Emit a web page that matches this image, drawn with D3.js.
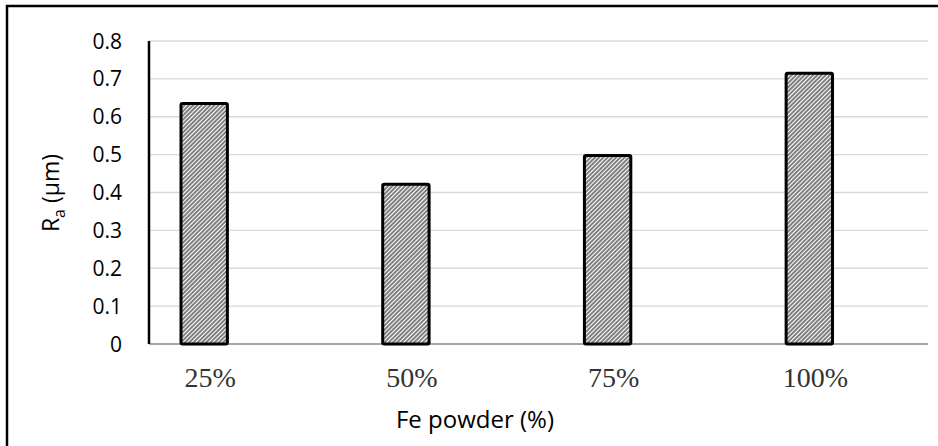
<!DOCTYPE html>
<html>
<head>
<meta charset="utf-8">
<script src="https://cdn.jsdelivr.net/npm/d3@7"></script>
<style>
  body { margin: 0; background: #fff; }
  svg { display: block; }
</style>
</head>
<body>
<svg id="chart" width="938" height="446"></svg>
<script>
// chart data
var categories = ['25%', '50%', '75%', '100%'];
var raValues = [0.635, 0.422, 0.498, 0.715];
var yTicks = [0, 0.1, 0.2, 0.3, 0.4, 0.5, 0.6, 0.7, 0.8];

var svg = d3.select('#chart');

// outer frame (right & bottom edges are cut off in the picture)
svg.append('path')
    .attr('d', 'M7,446 L7,6 L938,6')
    .attr('fill', 'none')
    .attr('stroke', '#000')
    .attr('stroke-width', 2.5);

// plot area (note: "top" is reserved on window, so use own names)
var plotL = 149, plotR = 928, plotT = 41, plotB = 344;

var x = d3.scaleBand()
    .domain(categories)
    .range([plotL, plotR])
    .paddingInner(0.77)
    .paddingOuter(0.316)
    .align(0.251);

var y = d3.scaleLinear()
    .domain([0, 0.8])
    .range([plotB, plotT]);

// hatch pattern
var defs = svg.append('defs');
var pat = defs.append('pattern')
    .attr('id', 'hatch')
    .attr('patternUnits', 'userSpaceOnUse')
    .attr('width', 3)
    .attr('height', 3)
    .attr('patternTransform', 'rotate(45)');
pat.append('rect').attr('width', 3).attr('height', 3).attr('fill', '#fff');
pat.append('line')
    .attr('x1', 1).attr('y1', 0).attr('x2', 1).attr('y2', 3)
    .attr('stroke', '#000')
    .attr('stroke-width', 1);

// gridlines
svg.append('g')
    .selectAll('line')
    .data(yTicks.slice(1))
    .enter().append('line')
    .attr('x1', plotL).attr('x2', plotR)
    .attr('y1', function(d) { return y(d); })
    .attr('y2', function(d) { return y(d); })
    .attr('stroke', '#d9d9d9')
    .attr('stroke-width', 1.3);

// x axis baseline
svg.append('line')
    .attr('x1', plotL).attr('x2', plotR)
    .attr('y1', y(0)).attr('y2', y(0))
    .attr('stroke', '#888')
    .attr('stroke-width', 1.5);

// bars
svg.append('g')
    .selectAll('rect')
    .data(raValues)
    .enter().append('rect')
    .attr('x', function(d, i) { return x(categories[i]); })
    .attr('width', x.bandwidth())
    .attr('y', function(d) { return y(d); })
    .attr('height', function(d) { return y(0) - y(d); })
    .attr('rx', 1.5)
    .attr('fill', 'url(#hatch)')
    .attr('stroke', '#000')
    .attr('stroke-width', 3);

// y axis line
svg.append('line')
    .attr('x1', plotL).attr('x2', plotL)
    .attr('y1', plotT).attr('y2', plotB)
    .attr('stroke', '#000')
    .attr('stroke-width', 2.5);

// y tick labels
svg.append('g')
    .selectAll('text')
    .data(yTicks)
    .enter().append('text')
    .attr('x', 122)
    .attr('y', function(d) { return y(d); })
    .attr('dy', '0.36em')
    .attr('text-anchor', 'end')
    .attr('font-family', 'Open Sans, sans-serif')
    .attr('font-size', 21)
    .attr('fill', '#000')
    .text(function(d) { return d === 0 ? '0' : d3.format('.1f')(d); });

// x category labels
svg.append('g')
    .selectAll('text')
    .data(categories)
    .enter().append('text')
    .attr('x', function(d) { return x(d) + x.bandwidth() / 2 + 6; })
    .attr('y', 387)
    .attr('text-anchor', 'middle')
    .attr('font-family', 'Liberation Serif, serif')
    .attr('font-size', 28)
    .attr('fill', '#333')
    .text(function(d) { return d; });

// x axis title
svg.append('text')
    .attr('x', 475)
    .attr('y', 428)
    .attr('text-anchor', 'middle')
    .attr('font-family', 'Open Sans, sans-serif')
    .attr('font-size', 24)
    .attr('fill', '#000')
    .text('Fe powder (%)');

// y axis title
var yt = svg.append('text')
    .attr('transform', 'translate(59,193) rotate(-90)')
    .attr('text-anchor', 'middle')
    .attr('font-family', 'Open Sans, sans-serif')
    .attr('font-size', 23)
    .attr('fill', '#000');
yt.append('tspan').text('R');
yt.append('tspan').attr('dy', 6).attr('font-size', 16).text('a');
yt.append('tspan').attr('dy', -6).text(' (\u03bcm)');
</script>
</body>
</html>
